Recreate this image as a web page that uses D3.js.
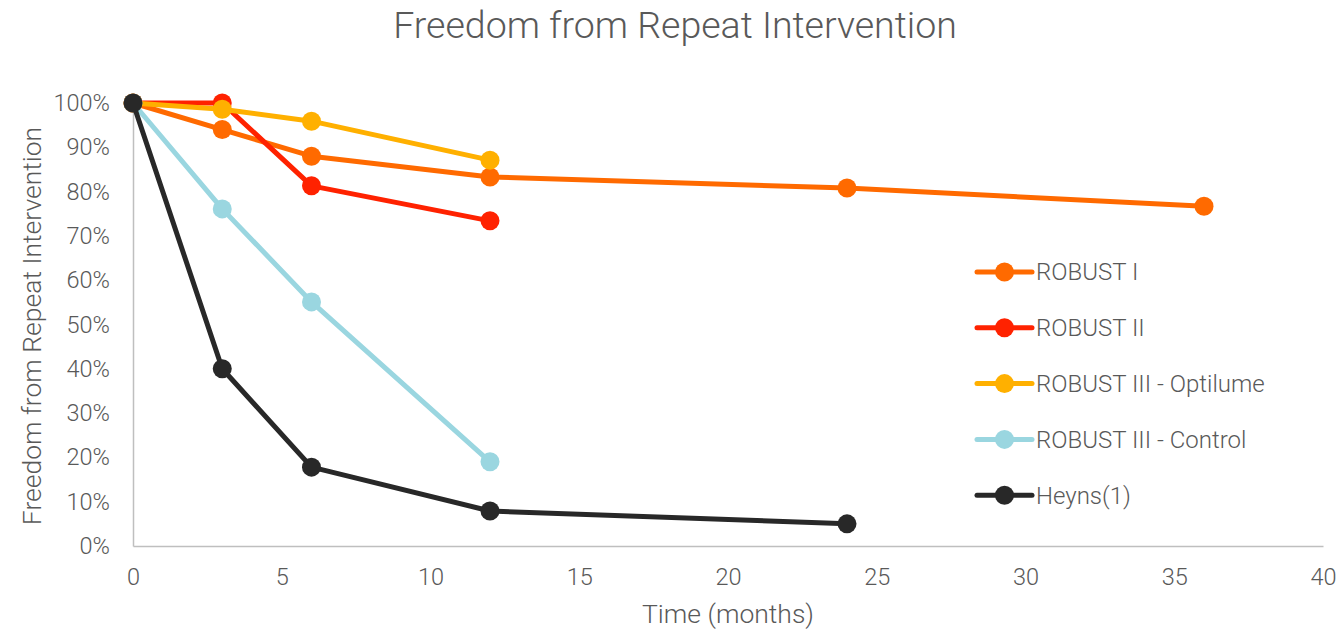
<!DOCTYPE html>
<html>
<head>
<meta charset="utf-8">
<script src="https://cdn.jsdelivr.net/npm/d3@7"></script>
<style>
  html, body { margin: 0; padding: 0; background: #fff; }
  svg text { font-family: Roboto, "Open Sans", sans-serif; font-weight: 300; fill: #595959; }
</style>
</head>
<body>
<svg id="chart" width="1341" height="632"></svg>
<script>
// Follow-up time points (months) and freedom from repeat intervention (%)
const seriesNames = ["ROBUST I", "ROBUST II", "ROBUST III - Optilume", "ROBUST III - Control", "Heyns(1)"];
const seriesColors = ["#FF6A00", "#FF2200", "#FFB000", "#9AD6E0", "#282828"];
const robust1Months = [0, 3, 6, 12, 24, 36];
const robust1Values = [100, 94, 88, 83.3, 80.8, 76.7];
const robust2Months = [0, 3, 6, 12];
const robust2Values = [100, 100, 81.3, 73.4];
const optilumeMonths = [0, 3, 6, 12];
const optilumeValues = [100, 98.6, 95.9, 87.1];
const controlMonths = [0, 3, 6, 12];
const controlValues = [100, 76.1, 55.1, 19];
const heynsMonths = [0, 3, 6, 12, 24];
const heynsValues = [100, 40, 17.8, 7.9, 5];
const xTicks = [0, 5, 10, 15, 20, 25, 30, 35, 40];
const yTicks = [0, 10, 20, 30, 40, 50, 60, 70, 80, 90, 100];

const series = [
  { months: robust1Months, values: robust1Values },
  { months: robust2Months, values: robust2Values },
  { months: optilumeMonths, values: optilumeValues },
  { months: controlMonths, values: controlValues },
  { months: heynsMonths, values: heynsValues }
].map((s, i) => ({
  name: seriesNames[i],
  color: seriesColors[i],
  points: s.months.map((m, j) => ({ x: m, y: s.values[j] }))
}));

const svg = d3.select("#chart");
const plotLeft = 133, plotRight = 1323, plotTop = 103, plotBottom = 546;

const x = d3.scaleLinear().domain([0, 40]).range([plotLeft, plotRight]);
const y = d3.scaleLinear().domain([0, 100]).range([plotBottom, plotTop]);

// Title
svg.append("text")
  .attr("x", 675).attr("y", 38)
  .attr("text-anchor", "middle")
  .style("font-size", "37.5px")
  .text("Freedom from Repeat Intervention");

// Axes
const xAxis = svg.append("g")
  .attr("transform", `translate(0,${plotBottom})`)
  .call(d3.axisBottom(x).tickValues(xTicks).tickSize(0).tickPadding(22).tickFormat(d3.format("d")));
const yAxis = svg.append("g")
  .attr("transform", `translate(${plotLeft},0)`)
  .call(d3.axisLeft(y).tickValues(yTicks).tickSize(0).tickPadding(23).tickFormat(d => d + "%"));

[xAxis, yAxis].forEach(g => {
  g.select(".domain").attr("stroke", "#BFBFBF").attr("stroke-width", 1.5);
  g.selectAll("text")
    .style("font-size", "23.5px")
    .style("font-family", "Roboto, sans-serif")
    .style("font-weight", 300)
    .attr("fill", "#595959");
});

// Axis titles
svg.append("text")
  .attr("x", 728).attr("y", 623)
  .attr("text-anchor", "middle")
  .style("font-size", "26.5px")
  .text("Time (months)");
svg.append("text")
  .attr("transform", "translate(41,326) rotate(-90)")
  .attr("text-anchor", "middle")
  .style("font-size", "26.5px")
  .text("Freedom from Repeat Intervention");

// Lines and markers
const line = d3.line().x(d => x(d.x)).y(d => y(d.y));
const groups = svg.append("g").selectAll("g")
  .data(series).join("g");

groups.append("path")
  .attr("d", d => line(d.points))
  .attr("fill", "none")
  .attr("stroke", d => d.color)
  .attr("stroke-width", 5)
  .attr("stroke-linejoin", "round");

groups.selectAll("circle")
  .data(d => d.points.map(p => ({ ...p, color: d.color })))
  .join("circle")
  .attr("cx", d => x(d.x))
  .attr("cy", d => y(d.y))
  .attr("r", 9.5)
  .attr("fill", d => d.color);

// Legend
const legend = svg.append("g").selectAll("g")
  .data(series).join("g")
  .attr("transform", (d, i) => `translate(977,${272 + i * 55.8})`);
legend.append("line")
  .attr("x1", 0).attr("x2", 55)
  .attr("stroke", d => d.color)
  .attr("stroke-width", 5)
  .attr("stroke-linecap", "round");
legend.append("circle")
  .attr("cx", 27.5).attr("r", 9.5)
  .attr("fill", d => d.color);
legend.append("text")
  .attr("x", 59).attr("dy", "0.35em")
  .style("font-size", "24px")
  .text(d => d.name);
</script>
</body>
</html>
